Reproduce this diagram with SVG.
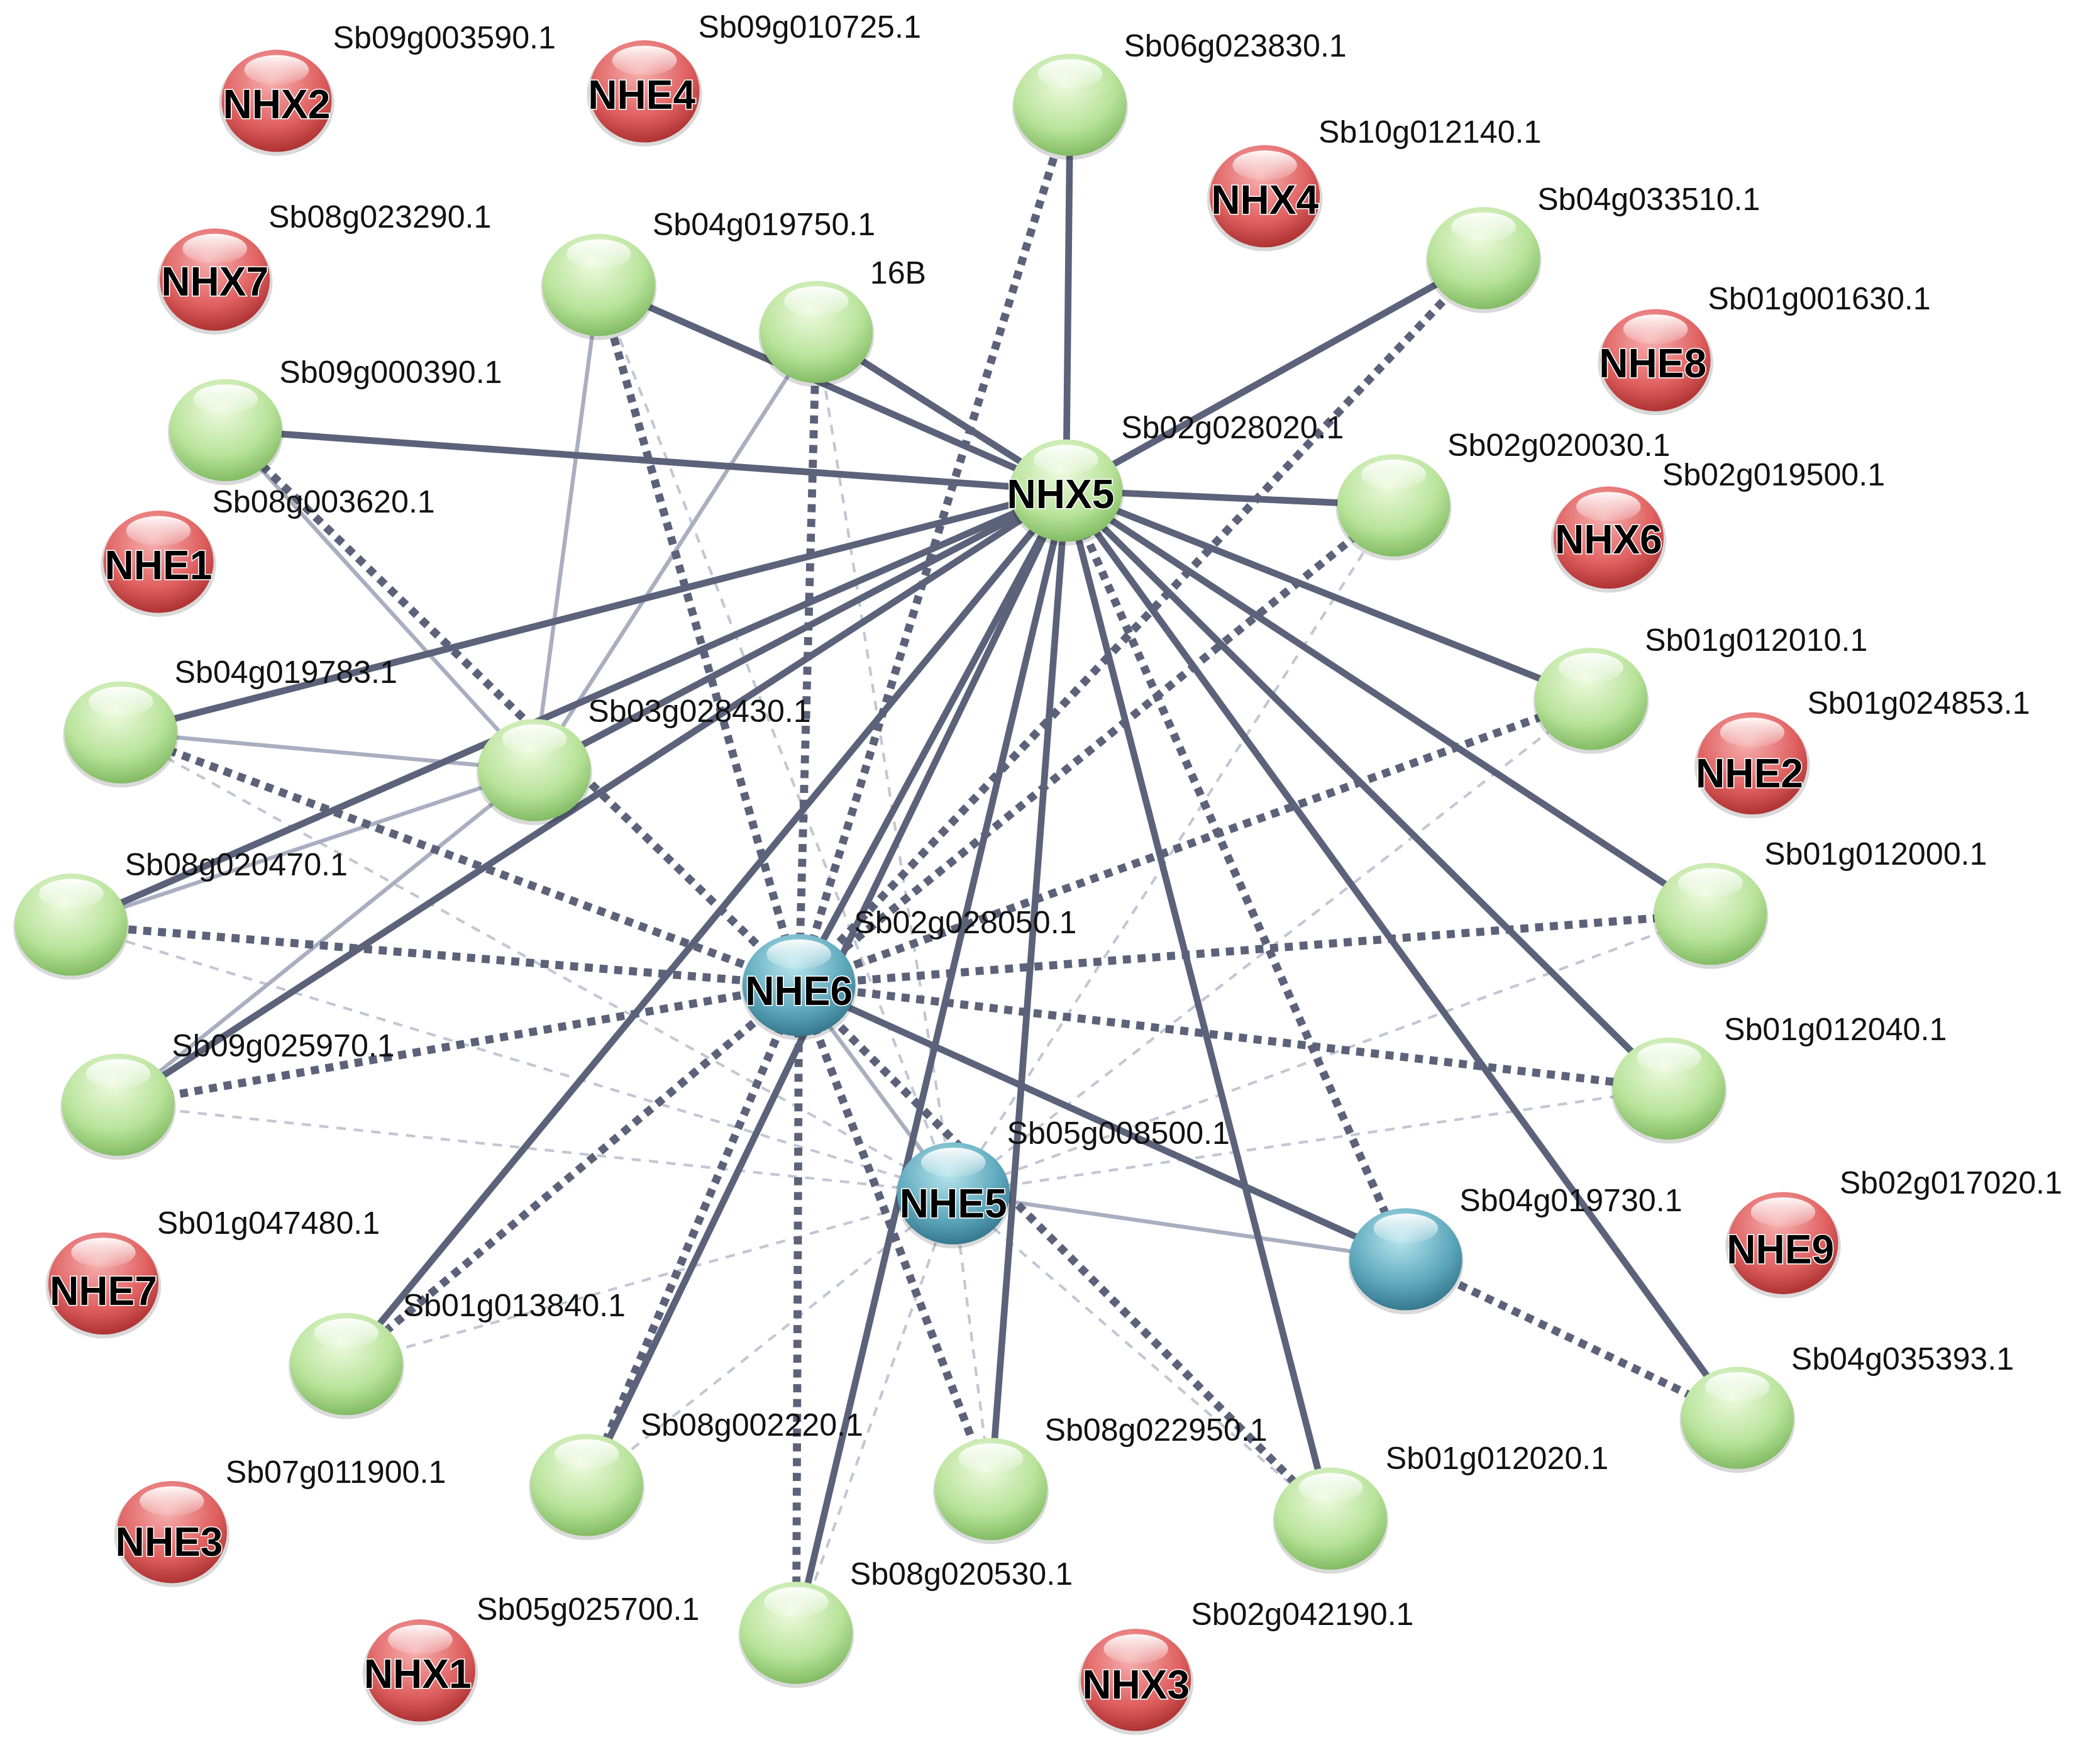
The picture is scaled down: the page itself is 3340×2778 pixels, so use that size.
<svg xmlns="http://www.w3.org/2000/svg" width="3340" height="2778" viewBox="0 0 3340 2778">
<style>
.s{stroke:#5b6279;stroke-width:5;fill:none}
.d{stroke:#5b6279;stroke-width:6;stroke-dasharray:6 5;fill:none}
.l{stroke:#a9aec0;stroke-width:3;fill:none}
.ld{stroke:#c3c7d3;stroke-width:2;stroke-dasharray:7 6;fill:none}
.lab{font-family:"Liberation Sans",Arial,sans-serif;font-size:23.5px;fill:#111;dominant-baseline:middle}
.nm{font-family:"Liberation Sans",Arial,sans-serif;font-size:30px;font-weight:bold;fill:#000;text-anchor:middle;dominant-baseline:middle;stroke:#fff;stroke-width:1.5;paint-order:stroke}
</style>
<defs>
<radialGradient id="gg" cx="0.45" cy="0.3" r="0.75"><stop offset="0" stop-color="#eefadf"/><stop offset="0.6" stop-color="#b8e39a"/><stop offset="1" stop-color="#78b45a"/></radialGradient>
<radialGradient id="gr" cx="0.45" cy="0.3" r="0.75"><stop offset="0" stop-color="#f7b0b0"/><stop offset="0.6" stop-color="#e06060"/><stop offset="1" stop-color="#a52a2a"/></radialGradient>
<radialGradient id="gt" cx="0.45" cy="0.3" r="0.75"><stop offset="0" stop-color="#b8e6ee"/><stop offset="0.6" stop-color="#5fa9bd"/><stop offset="1" stop-color="#2f6f85"/></radialGradient>
<linearGradient id="hl" x1="0" y1="0" x2="0" y2="1"><stop offset="0" stop-color="#fff" stop-opacity="0.95"/><stop offset="1" stop-color="#fff" stop-opacity="0.1"/></linearGradient>
<g id="n"><ellipse cx="0" cy="2" rx="43" ry="39" fill="#000" opacity="0.15"/></g>
</defs>
<rect width="3340" height="2778" fill="#fff"/>
<g transform="scale(2.1355,2.137)">
<g id="connectors">
<g class="ld">
<line x1="710" y1="888" x2="53" y2="688"/><line x1="710" y1="888" x2="90" y2="545"/><line x1="710" y1="888" x2="88" y2="822"/>
<line x1="710" y1="888" x2="1274" y2="680"/><line x1="710" y1="888" x2="1243" y2="810"/><line x1="710" y1="888" x2="258" y2="1015"/>
<line x1="710" y1="888" x2="437" y2="1105"/><line x1="710" y1="888" x2="738" y2="1108"/><line x1="710" y1="888" x2="991" y2="1130"/>
<line x1="710" y1="888" x2="1038" y2="376"/><line x1="710" y1="888" x2="608" y2="247"/><line x1="710" y1="888" x2="446" y2="212"/>
<line x1="710" y1="888" x2="593" y2="1215"/><line x1="710" y1="888" x2="1185" y2="520"/>
</g>
<g class="l">
<line x1="398" y1="573" x2="446" y2="212"/><line x1="398" y1="573" x2="608" y2="247"/><line x1="398" y1="573" x2="168" y2="320"/>
<line x1="398" y1="573" x2="90" y2="545"/><line x1="398" y1="573" x2="53" y2="688"/><line x1="398" y1="573" x2="88" y2="822"/>
<line x1="595" y1="733" x2="710" y2="888"/><line x1="710" y1="888" x2="1047" y2="937"/>
</g>
<g class="d">
<line x1="595" y1="733" x2="797" y2="78"/><line x1="595" y1="733" x2="1105" y2="192"/><line x1="595" y1="733" x2="446" y2="212"/>
<line x1="595" y1="733" x2="608" y2="247"/><line x1="595" y1="733" x2="168" y2="320"/><line x1="595" y1="733" x2="90" y2="545"/>
<line x1="595" y1="733" x2="53" y2="688"/><line x1="595" y1="733" x2="88" y2="822"/><line x1="595" y1="733" x2="1274" y2="680"/>
<line x1="595" y1="733" x2="1243" y2="810"/><line x1="595" y1="733" x2="1038" y2="376"/><line x1="595" y1="733" x2="1185" y2="520"/>
<line x1="595" y1="733" x2="258" y2="1015"/><line x1="595" y1="733" x2="437" y2="1105"/><line x1="595" y1="733" x2="738" y2="1108"/>
<line x1="595" y1="733" x2="991" y2="1130"/><line x1="595" y1="733" x2="593" y2="1215"/>
<line x1="794" y1="365" x2="1047" y2="937"/><line x1="1047" y1="937" x2="1294" y2="1055"/>
</g>
<g class="s">
<line x1="794" y1="365" x2="797" y2="78"/><line x1="794" y1="365" x2="1105" y2="192"/><line x1="794" y1="365" x2="446" y2="212"/>
<line x1="794" y1="365" x2="608" y2="247"/><line x1="794" y1="365" x2="168" y2="320"/><line x1="794" y1="365" x2="1038" y2="376"/>
<line x1="794" y1="365" x2="1185" y2="520"/><line x1="794" y1="365" x2="90" y2="545"/><line x1="794" y1="365" x2="398" y2="573"/>
<line x1="794" y1="365" x2="53" y2="688"/><line x1="794" y1="365" x2="1274" y2="680"/><line x1="794" y1="365" x2="88" y2="822"/>
<line x1="794" y1="365" x2="1243" y2="810"/><line x1="794" y1="365" x2="258" y2="1015"/><line x1="794" y1="365" x2="1294" y2="1055"/>
<line x1="794" y1="365" x2="437" y2="1105"/><line x1="794" y1="365" x2="738" y2="1108"/><line x1="794" y1="365" x2="991" y2="1130"/>
<line x1="794" y1="365" x2="593" y2="1215"/><line x1="794" y1="365" x2="595" y2="733"/>
<line x1="595" y1="733" x2="1047" y2="937"/>
</g>
</g>
<g id="nodes">
<g id="NHX2"><use href="#n" x="206" y="75"/><ellipse cx="206" cy="75" rx="41" ry="38" fill="url(#gr)"/><ellipse cx="206" cy="52" rx="24" ry="11" fill="url(#hl)"/><text class="nm" x="206" y="80">NHX2</text><text class="lab" x="248" y="30">Sb09g003590.1</text></g>
<g id="NHE4"><use href="#n" x="480" y="68"/><ellipse cx="480" cy="68" rx="41" ry="38" fill="url(#gr)"/><ellipse cx="480" cy="45" rx="24" ry="11" fill="url(#hl)"/><text class="nm" x="478" y="73">NHE4</text><text class="lab" x="520" y="22">Sb09g010725.1</text></g>
<g id="NHX7"><use href="#n" x="160" y="208"/><ellipse cx="160" cy="208" rx="41" ry="38" fill="url(#gr)"/><ellipse cx="160" cy="185" rx="24" ry="11" fill="url(#hl)"/><text class="nm" x="160" y="212">NHX7</text><text class="lab" x="200" y="163">Sb08g023290.1</text></g>
<g id="NHX4"><use href="#n" x="942" y="146"/><ellipse cx="942" cy="146" rx="41" ry="38" fill="url(#gr)"/><ellipse cx="942" cy="123" rx="24" ry="11" fill="url(#hl)"/><text class="nm" x="942" y="151">NHX4</text><text class="lab" x="982" y="100">Sb10g012140.1</text></g>
<g id="NHE8"><use href="#n" x="1233" y="268"/><ellipse cx="1233" cy="268" rx="41" ry="38" fill="url(#gr)"/><ellipse cx="1233" cy="245" rx="24" ry="11" fill="url(#hl)"/><text class="nm" x="1231" y="273">NHE8</text><text class="lab" x="1272" y="224">Sb01g001630.1</text></g>
<g id="NHE1"><use href="#n" x="118" y="418"/><ellipse cx="118" cy="418" rx="41" ry="38" fill="url(#gr)"/><ellipse cx="118" cy="395" rx="24" ry="11" fill="url(#hl)"/><text class="nm" x="118" y="423">NHE1</text><text class="lab" x="158" y="375">Sb08g003620.1</text></g>
<g id="NHX6"><use href="#n" x="1198" y="400"/><ellipse cx="1198" cy="400" rx="41" ry="38" fill="url(#gr)"/><ellipse cx="1198" cy="377" rx="24" ry="11" fill="url(#hl)"/><text class="nm" x="1198" y="404">NHX6</text><text class="lab" x="1238" y="355">Sb02g019500.1</text></g>
<g id="NHE2"><use href="#n" x="1305" y="568"/><ellipse cx="1305" cy="568" rx="41" ry="38" fill="url(#gr)"/><ellipse cx="1305" cy="545" rx="24" ry="11" fill="url(#hl)"/><text class="nm" x="1303" y="578">NHE2</text><text class="lab" x="1346" y="525">Sb01g024853.1</text></g>
<g id="NHE9"><use href="#n" x="1328" y="925"/><ellipse cx="1328" cy="925" rx="41" ry="38" fill="url(#gr)"/><ellipse cx="1328" cy="902" rx="24" ry="11" fill="url(#hl)"/><text class="nm" x="1326" y="932">NHE9</text><text class="lab" x="1370" y="882">Sb02g017020.1</text></g>
<g id="NHE7"><use href="#n" x="77" y="955"/><ellipse cx="77" cy="955" rx="41" ry="38" fill="url(#gr)"/><ellipse cx="77" cy="932" rx="24" ry="11" fill="url(#hl)"/><text class="nm" x="77" y="963">NHE7</text><text class="lab" x="117" y="912">Sb01g047480.1</text></g>
<g id="NHE3"><use href="#n" x="128" y="1140"/><ellipse cx="128" cy="1140" rx="41" ry="38" fill="url(#gr)"/><ellipse cx="128" cy="1117" rx="24" ry="11" fill="url(#hl)"/><text class="nm" x="126" y="1150">NHE3</text><text class="lab" x="168" y="1097">Sb07g011900.1</text></g>
<g id="NHX1"><use href="#n" x="313" y="1243"/><ellipse cx="313" cy="1243" rx="41" ry="38" fill="url(#gr)"/><ellipse cx="313" cy="1220" rx="24" ry="11" fill="url(#hl)"/><text class="nm" x="311" y="1248">NHX1</text><text class="lab" x="355" y="1199">Sb05g025700.1</text></g>
<g id="NHX3"><use href="#n" x="846" y="1250"/><ellipse cx="846" cy="1250" rx="41" ry="38" fill="url(#gr)"/><ellipse cx="846" cy="1227" rx="24" ry="11" fill="url(#hl)"/><text class="nm" x="846" y="1256">NHX3</text><text class="lab" x="887" y="1203">Sb02g042190.1</text></g>

<g id="G1"><use href="#n" x="797" y="78"/><ellipse cx="797" cy="78" rx="42" ry="38" fill="url(#gg)"/><ellipse cx="797" cy="55" rx="24" ry="11" fill="url(#hl)"/><text class="lab" x="837" y="36">Sb06g023830.1</text></g>
<g id="G2"><use href="#n" x="1105" y="192"/><ellipse cx="1105" cy="192" rx="42" ry="38" fill="url(#gg)"/><ellipse cx="1105" cy="169" rx="24" ry="11" fill="url(#hl)"/><text class="lab" x="1145" y="150">Sb04g033510.1</text></g>
<g id="G3"><use href="#n" x="446" y="212"/><ellipse cx="446" cy="212" rx="42" ry="38" fill="url(#gg)"/><ellipse cx="446" cy="189" rx="24" ry="11" fill="url(#hl)"/><text class="lab" x="486" y="169">Sb04g019750.1</text></g>
<g id="G4"><use href="#n" x="608" y="247"/><ellipse cx="608" cy="247" rx="42" ry="38" fill="url(#gg)"/><ellipse cx="608" cy="224" rx="24" ry="11" fill="url(#hl)"/><text class="lab" x="648" y="205">16B</text></g>
<g id="G5"><use href="#n" x="168" y="320"/><ellipse cx="168" cy="320" rx="42" ry="38" fill="url(#gg)"/><ellipse cx="168" cy="297" rx="24" ry="11" fill="url(#hl)"/><text class="lab" x="208" y="279">Sb09g000390.1</text></g>
<g id="NHX5"><use href="#n" x="794" y="365"/><ellipse cx="794" cy="365" rx="42" ry="38" fill="url(#gg)"/><ellipse cx="794" cy="342" rx="24" ry="11" fill="url(#hl)"/><text class="nm" x="790" y="370">NHX5</text><text class="lab" x="835" y="320">Sb02g028020.1</text></g>
<g id="G6"><use href="#n" x="1038" y="376"/><ellipse cx="1038" cy="376" rx="42" ry="38" fill="url(#gg)"/><ellipse cx="1038" cy="353" rx="24" ry="11" fill="url(#hl)"/><text class="lab" x="1078" y="333">Sb02g020030.1</text></g>
<g id="G7"><use href="#n" x="1185" y="520"/><ellipse cx="1185" cy="520" rx="42" ry="38" fill="url(#gg)"/><ellipse cx="1185" cy="497" rx="24" ry="11" fill="url(#hl)"/><text class="lab" x="1225" y="478">Sb01g012010.1</text></g>
<g id="G8"><use href="#n" x="90" y="545"/><ellipse cx="90" cy="545" rx="42" ry="38" fill="url(#gg)"/><ellipse cx="90" cy="522" rx="24" ry="11" fill="url(#hl)"/><text class="lab" x="130" y="502">Sb04g019783.1</text></g>
<g id="G9"><use href="#n" x="398" y="573"/><ellipse cx="398" cy="573" rx="42" ry="38" fill="url(#gg)"/><ellipse cx="398" cy="550" rx="24" ry="11" fill="url(#hl)"/><text class="lab" x="438" y="531">Sb03g028430.1</text></g>
<g id="G10"><use href="#n" x="53" y="688"/><ellipse cx="53" cy="688" rx="42" ry="38" fill="url(#gg)"/><ellipse cx="53" cy="665" rx="24" ry="11" fill="url(#hl)"/><text class="lab" x="93" y="645">Sb08g020470.1</text></g>
<g id="G11"><use href="#n" x="1274" y="680"/><ellipse cx="1274" cy="680" rx="42" ry="38" fill="url(#gg)"/><ellipse cx="1274" cy="657" rx="24" ry="11" fill="url(#hl)"/><text class="lab" x="1314" y="637">Sb01g012000.1</text></g>
<g id="NHE6"><use href="#n" x="595" y="733"/><ellipse cx="595" cy="733" rx="42" ry="38" fill="url(#gt)"/><ellipse cx="595" cy="710" rx="24" ry="11" fill="url(#hl)"/><text class="nm" x="595" y="740">NHE6</text><text class="lab" x="636" y="688">Sb02g028050.1</text></g>
<g id="G12"><use href="#n" x="88" y="822"/><ellipse cx="88" cy="822" rx="42" ry="38" fill="url(#gg)"/><ellipse cx="88" cy="799" rx="24" ry="11" fill="url(#hl)"/><text class="lab" x="128" y="780">Sb09g025970.1</text></g>
<g id="G13"><use href="#n" x="1243" y="810"/><ellipse cx="1243" cy="810" rx="42" ry="38" fill="url(#gg)"/><ellipse cx="1243" cy="787" rx="24" ry="11" fill="url(#hl)"/><text class="lab" x="1284" y="768">Sb01g012040.1</text></g>
<g id="NHE5"><use href="#n" x="710" y="888"/><ellipse cx="710" cy="888" rx="42" ry="38" fill="url(#gt)"/><ellipse cx="710" cy="865" rx="24" ry="11" fill="url(#hl)"/><text class="nm" x="710" y="898">NHE5</text><text class="lab" x="750" y="845">Sb05g008500.1</text></g>
<g id="T3"><use href="#n" x="1047" y="937"/><ellipse cx="1047" cy="937" rx="42" ry="38" fill="url(#gt)"/><ellipse cx="1047" cy="914" rx="24" ry="11" fill="url(#hl)"/><text class="lab" x="1087" y="895">Sb04g019730.1</text></g>
<g id="G14"><use href="#n" x="258" y="1015"/><ellipse cx="258" cy="1015" rx="42" ry="38" fill="url(#gg)"/><ellipse cx="258" cy="992" rx="24" ry="11" fill="url(#hl)"/><text class="lab" x="300" y="973">Sb01g013840.1</text></g>
<g id="G15"><use href="#n" x="1294" y="1055"/><ellipse cx="1294" cy="1055" rx="42" ry="38" fill="url(#gg)"/><ellipse cx="1294" cy="1032" rx="24" ry="11" fill="url(#hl)"/><text class="lab" x="1334" y="1013">Sb04g035393.1</text></g>
<g id="G16"><use href="#n" x="437" y="1105"/><ellipse cx="437" cy="1105" rx="42" ry="38" fill="url(#gg)"/><ellipse cx="437" cy="1082" rx="24" ry="11" fill="url(#hl)"/><text class="lab" x="477" y="1062">Sb08g002220.1</text></g>
<g id="G17"><use href="#n" x="738" y="1108"/><ellipse cx="738" cy="1108" rx="42" ry="38" fill="url(#gg)"/><ellipse cx="738" cy="1085" rx="24" ry="11" fill="url(#hl)"/><text class="lab" x="778" y="1066">Sb08g022950.1</text></g>
<g id="G18"><use href="#n" x="991" y="1130"/><ellipse cx="991" cy="1130" rx="42" ry="38" fill="url(#gg)"/><ellipse cx="991" cy="1107" rx="24" ry="11" fill="url(#hl)"/><text class="lab" x="1032" y="1087">Sb01g012020.1</text></g>
<g id="G19"><use href="#n" x="593" y="1215"/><ellipse cx="593" cy="1215" rx="42" ry="38" fill="url(#gg)"/><ellipse cx="593" cy="1192" rx="24" ry="11" fill="url(#hl)"/><text class="lab" x="633" y="1173">Sb08g020530.1</text></g>
</g>
</g>
</svg>
